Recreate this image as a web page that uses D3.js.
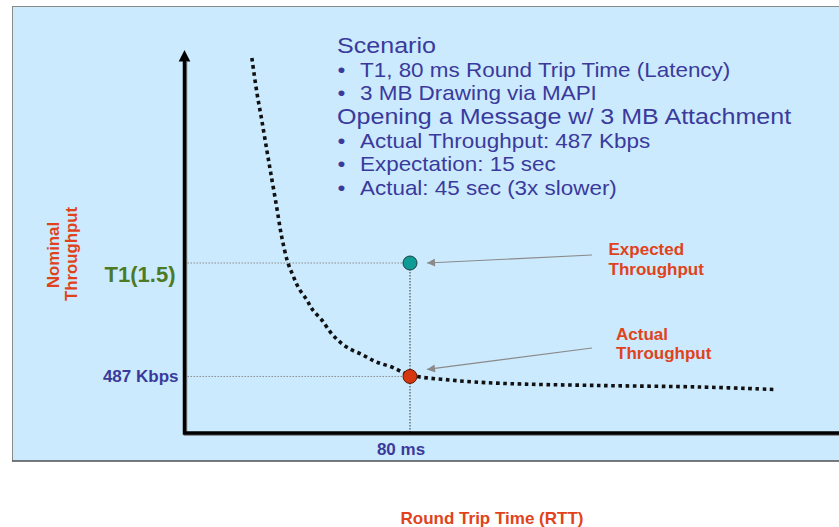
<!DOCTYPE html>
<html>
<head>
<meta charset="utf-8">
<script src="https://cdn.jsdelivr.net/npm/d3@7"></script>
<style>
  html, body { margin: 0; padding: 0; background: #ffffff; }
  svg { display: block; }
  text { font-family: "Liberation Sans", Arial, sans-serif; }
</style>
</head>
<body>
<svg id="chart" width="839" height="527"></svg>
<script>
// ---- data ----
const rttMs = [23.9, 25.7, 27.4, 29.2, 30.6, 32.7, 34.5, 36.6, 38.4, 40.5, 43.4, 45.5, 48.7, 52.6, 57.5, 63.2, 68.1, 73.5, 80, 94.2, 111.9, 147.3, 182.7, 209.9];
const throughputKbps = [3330, 3018, 2777, 2509, 2304, 2000, 1732, 1509, 1393, 1277, 1170, 1080, 991, 857, 750, 679, 616, 571, 500, 455, 426, 406, 393, 370];
const markerRtt = 80;
const expectedKbps = 1500;
const actualKbps = 487;
const yTickLabels = ["T1(1.5)", "487 Kbps"];
const xTickLabels = ["80 ms"];
const calloutLabels = [["Expected", "Throughput"], ["Actual", "Throughput"]];
const scenarioLines = [
  { text: "Scenario", bullet: false },
  { text: "T1, 80 ms Round Trip Time (Latency)", bullet: true },
  { text: "3 MB Drawing via MAPI", bullet: true },
  { text: "Opening a Message w/ 3 MB Attachment", bullet: false },
  { text: "Actual Throughput: 487 Kbps", bullet: true },
  { text: "Expectation: 15 sec", bullet: true },
  { text: "Actual: 45 sec (3x slower)", bullet: true }
];
const yTitle = ["Nominal", "Throughput"];
const xTitle = "Round Trip Time (RTT)";

// ---- layout ----
const svg = d3.select("#chart");
const axisX0 = 184.5, axisY0 = 433;
const x = d3.scaleLinear().domain([0, 80]).range([axisX0, 410]);
const y = d3.scaleLinear().domain([0, 1500]).range([431, 263]);

const RED = "#e0431b", BLUE = "#3a3a9c", GREEN = "#4d7a25";

// panel
svg.append("rect").attr("x", 12.5).attr("y", 6.5).attr("width", 840).attr("height", 454.5)
  .attr("fill", "#cceafe").attr("stroke", "#8a8a8a").attr("stroke-width", 1);
svg.append("line").attr("x1", 12).attr("x2", 839).attr("y1", 461).attr("y2", 461)
  .attr("stroke", "#333").attr("stroke-width", 1.2);

// guide lines
[expectedKbps, actualKbps].forEach(v => {
  svg.append("line").attr("x1", axisX0).attr("x2", x(markerRtt)).attr("y1", y(v)).attr("y2", y(v))
    .attr("stroke", "#8a8a8a").attr("stroke-width", 1).attr("stroke-dasharray", "1.5,1.5");
});
svg.append("line").attr("x1", x(markerRtt)).attr("x2", x(markerRtt)).attr("y1", y(expectedKbps)).attr("y2", axisY0)
  .attr("stroke", "#333").attr("stroke-width", 1).attr("stroke-dasharray", "1.5,1.5");

// curve
const line = d3.line().x((d, i) => x(rttMs[i])).y((d, i) => y(throughputKbps[i])).curve(d3.curveCatmullRom.alpha(0.5));
svg.append("path").attr("d", line(rttMs)).attr("fill", "none")
  .attr("stroke", "#111").attr("stroke-width", 3.6).attr("stroke-dasharray", "3.6,3.6");

// arrows
const defs = svg.append("defs");
defs.append("marker").attr("id", "ah").attr("viewBox", "0 0 10 10").attr("refX", 10).attr("refY", 5)
  .attr("markerWidth", 10).attr("markerHeight", 8).attr("markerUnits", "userSpaceOnUse").attr("orient", "auto")
  .append("path").attr("d", "M0,0 L10,5 L0,10 z").attr("fill", "#8a8a8a");
svg.append("line").attr("x1", 592).attr("y1", 255).attr("x2", x(markerRtt) + 17).attr("y2", y(expectedKbps))
  .attr("stroke", "#8a8a8a").attr("stroke-width", 1.2).attr("marker-end", "url(#ah)");
svg.append("line").attr("x1", 592).attr("y1", 348).attr("x2", x(markerRtt) + 17).attr("y2", y(actualKbps) - 7)
  .attr("stroke", "#8a8a8a").attr("stroke-width", 1.2).attr("marker-end", "url(#ah)");

// points
svg.append("circle").attr("cx", x(markerRtt)).attr("cy", y(expectedKbps)).attr("r", 7)
  .attr("fill", "#0e9a95").attr("stroke", "#1f3f3f").attr("stroke-width", 1);
svg.append("circle").attr("cx", x(markerRtt)).attr("cy", y(actualKbps)).attr("r", 7)
  .attr("fill", "#d5370f").attr("stroke", "#5a1a08").attr("stroke-width", 1);

// axes (with light shadow)
svg.append("path").attr("d", `M${axisX0 + 1},62 L${axisX0 + 1},${axisY0 + 1} L839,${axisY0 + 1}`)
  .attr("fill", "none").attr("stroke", "#777").attr("stroke-width", 3.5);
svg.append("path").attr("d", `M${axisX0},60 L${axisX0},${axisY0} L839,${axisY0}`)
  .attr("fill", "none").attr("stroke", "#000").attr("stroke-width", 3.5);
svg.append("path").attr("d", `M${axisX0},50 L${axisX0 - 5.8},61.5 L${axisX0 + 5.8},61.5 Z`).attr("fill", "#000");

// y tick labels
svg.append("text").attr("x", 175.5).attr("y", 281.5).attr("text-anchor", "end")
  .attr("font-size", 22).attr("font-weight", "bold").attr("fill", GREEN).text(yTickLabels[0]);
svg.append("text").attr("x", 178.5).attr("y", 381.5).attr("text-anchor", "end")
  .attr("font-size", 17).attr("font-weight", "bold").attr("fill", BLUE).text(yTickLabels[1]);

// x tick label
svg.append("text").attr("x", 401).attr("y", 455).attr("text-anchor", "middle")
  .attr("font-size", 17).attr("font-weight", "bold").attr("fill", BLUE).text(xTickLabels[0]);

// callouts
const callPos = [[608.5, 255, 275], [616, 340, 359]];
calloutLabels.forEach((lines, i) => {
  lines.forEach((t, j) => {
    svg.append("text").attr("x", callPos[i][0]).attr("y", callPos[i][1 + j])
      .attr("font-size", 17).attr("font-weight", "bold").attr("fill", RED).text(t);
  });
});

// axis titles
const yt = svg.append("g").attr("transform", "translate(59,255) rotate(-90)");
yt.append("text").attr("x", 0).attr("y", 0).attr("text-anchor", "middle")
  .attr("font-size", 16.8).attr("font-weight", "bold").attr("fill", RED).text(yTitle[0]);
const yt2 = svg.append("g").attr("transform", "translate(77,254) rotate(-90)");
yt2.append("text").attr("x", 0).attr("y", 0).attr("text-anchor", "middle")
  .attr("font-size", 16.8).attr("font-weight", "bold").attr("fill", RED).text(yTitle[1]);
svg.append("text").attr("x", 492).attr("y", 523.5).attr("text-anchor", "middle")
  .attr("font-size", 17).attr("font-weight", "bold").attr("fill", RED).text(xTitle);

// scenario text
const sc = svg.append("g").attr("transform", "translate(337,0) scale(1.1,1)");
const baselines = [53, 77, 100.5, 124, 148, 171.5, 195];
scenarioLines.forEach((d, i) => {
  const by = baselines[i];
  if (d.bullet) {
    sc.append("text").attr("x", 0.5).attr("y", by).attr("font-size", 20.4).attr("fill", BLUE).text("•");
    sc.append("text").attr("x", 20.9).attr("y", by).attr("font-size", 20.4).attr("fill", BLUE).text(d.text);
  } else {
    sc.append("text").attr("x", 0).attr("y", by).attr("font-size", 22.8).attr("fill", BLUE).text(d.text);
  }
});
</script>
</body>
</html>
